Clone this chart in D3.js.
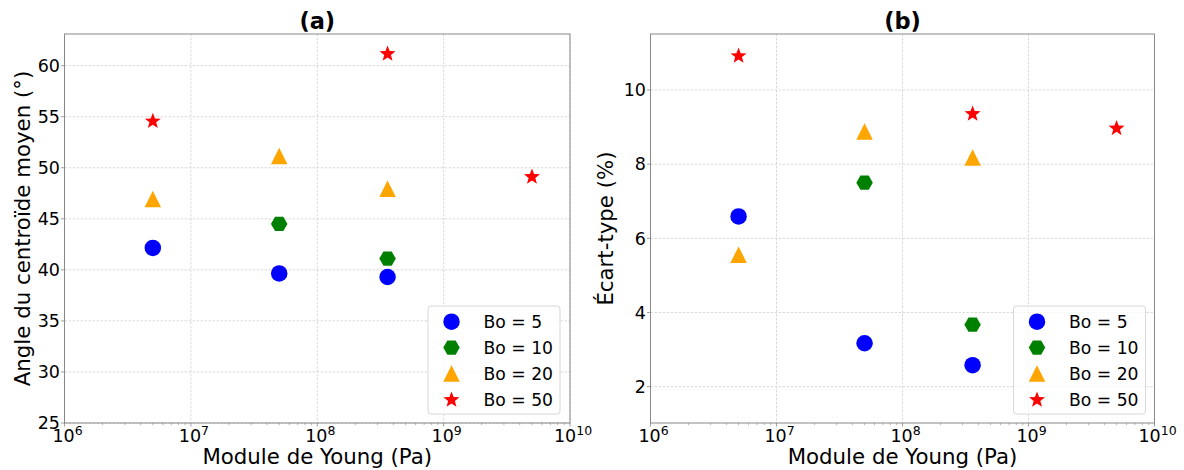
<!DOCTYPE html>
<html><head><meta charset="utf-8">
<script src="https://cdn.jsdelivr.net/npm/d3@7"></script>
<style>body{margin:0;background:#fff;} text{font-family:"DejaVu Sans",sans-serif;}</style>
</head><body>
<svg id="c" width="1184" height="470"></svg>
<script>
const seriesNames = ["Bo = 5", "Bo = 10", "Bo = 20", "Bo = 50"];
const colors = ["#0000ff", "#008000", "#ffa500", "#ff0000"];
const shapes = ["circle", "hexagon", "triangle", "star"];
// x values (Pa) per series
const xBo5 = [5e6, 5e7, 3.6e8];
const xBo10 = [5e7, 3.6e8];
const xBo20 = [5e6, 5e7, 3.6e8];
const xBo50 = [5e6, 3.6e8, 5e9];
// panel (a): angle du centroïde moyen
const angleBo5 = [42.15, 39.65, 39.3];
const angleBo10 = [44.5, 41.1];
const angleBo20 = [46.95, 51.15, 47.95];
const angleBo50 = [54.6, 61.2, 49.15];
// panel (b): écart-type
const stdBo5 = [6.59, 3.17, 2.58];
const stdBo10 = [7.5, 3.67];
const stdBo20 = [5.56, 8.88, 8.18];
const stdBo50 = [10.93, 9.37, 8.98];
const xTickExps = [6, 7, 8, 9, 10];
const yTicksA = [25, 30, 35, 40, 45, 50, 55, 60];
const yTicksB = [2, 4, 6, 8, 10];

const svg = d3.select("#c");
const S = 16.5; // marker size

function markerPath(shape){
  const h = S/2;
  if(shape==="circle") return d3.symbol(d3.symbolCircle, Math.PI*h*h)();
  if(shape==="triangle") return `M0,${-h}L${h},${h}L${-h},${h}Z`;
  if(shape==="hexagon"){ let p=[]; for(let i=0;i<6;i++){const a=i*Math.PI/3; p.push([h*Math.cos(a), h*Math.sin(a)]);} return "M"+p.map(q=>q.map(v=>v.toFixed(2)).join(",")).join("L")+"Z"; }
  if(shape==="star"){ const R=h*1.02, r=R*0.42; let p=[]; for(let i=0;i<10;i++){const a=-Math.PI/2+i*Math.PI/5; const rr=i%2?r:R; p.push([rr*Math.cos(a), rr*Math.sin(a)+0.5]);} return "M"+p.map(q=>q.map(v=>v.toFixed(2)).join(",")).join("L")+"Z"; }
}

function panel(opts){
  const {left,right,top,bottom,yDomain,yTicks,data,title,ylabel,ylabelX,legendX} = opts;
  const x = d3.scaleLog().domain([1e6,1e10]).range([left,right]);
  const y = d3.scaleLinear().domain(yDomain).range([bottom,top]);
  const g = svg.append("g");
  const gridStyle = sel => sel.attr("stroke","#cfcfcf").attr("stroke-width",0.8).attr("stroke-dasharray","2.5,1.5");
  g.selectAll(".gx").data(xTickExps).enter().append("line")
    .attr("x1",d=>x(Math.pow(10,d))).attr("x2",d=>x(Math.pow(10,d)))
    .attr("y1",top).attr("y2",bottom).call(gridStyle);
  g.selectAll(".gy").data(yTicks).enter().append("line")
    .attr("x1",left).attr("x2",right).attr("y1",d=>y(d)).attr("y2",d=>y(d)).call(gridStyle);
  // ticks
  const minors=[];
  for(let e=6;e<10;e++) for(let k=2;k<10;k++) minors.push(k*Math.pow(10,e));
  g.selectAll(".mt").data(minors).enter().append("line")
    .attr("x1",d=>x(d)).attr("x2",d=>x(d)).attr("y1",bottom).attr("y2",bottom+2.2)
    .attr("stroke","#888").attr("stroke-width",0.6);
  g.selectAll(".Mt").data(xTickExps).enter().append("line")
    .attr("x1",d=>x(Math.pow(10,d))).attr("x2",d=>x(Math.pow(10,d))).attr("y1",bottom).attr("y2",bottom+3.5)
    .attr("stroke","#888").attr("stroke-width",0.8);
  g.selectAll(".yMt").data(yTicks).enter().append("line")
    .attr("x1",left).attr("x2",left-3.5).attr("y1",d=>y(d)).attr("y2",d=>y(d))
    .attr("stroke","#888").attr("stroke-width",0.8);
  // spine
  g.append("rect").attr("x",left).attr("y",top).attr("width",right-left).attr("height",bottom-top)
    .attr("fill","none").attr("stroke","#888").attr("stroke-width",1);
  // x tick labels
  const xt = g.selectAll(".xt").data(xTickExps).enter().append("text")
    .attr("x",d=>x(Math.pow(10,d))+3).attr("y",bottom+19).attr("text-anchor","middle")
    .attr("font-size",17.5).attr("fill","#000");
  xt.append("tspan").text("10");
  xt.append("tspan").attr("dy",-7.5).attr("font-size",12.5).text(d=>d);
  // y tick labels
  g.selectAll(".yt").data(yTicks).enter().append("text")
    .attr("x",left-4.5).attr("y",d=>y(d)).attr("dy","0.36em").attr("text-anchor","end")
    .attr("font-size",17.5).attr("fill","#000").text(d=>d);
  // labels
  g.append("text").attr("x",(left+right)/2).attr("y",464).attr("text-anchor","middle")
    .attr("font-size",21.3).text("Module de Young (Pa)");
  g.append("text").attr("transform",`translate(${ylabelX},${(top+bottom)/2}) rotate(-90)`)
    .attr("text-anchor","middle").attr("font-size",21.3).text(ylabel);
  g.append("text").attr("x",(left+right)/2).attr("y",29).attr("text-anchor","middle")
    .attr("font-size",22.5).attr("font-weight","bold").text(title);
  // points
  data.forEach((s,i)=>{
    g.selectAll(null).data(s.xs.map((xv,j)=>[xv,s.ys[j]])).enter().append("path")
      .attr("d",markerPath(shapes[i]))
      .attr("transform",d=>`translate(${x(d[0])},${y(d[1])})`)
      .attr("fill",colors[i]);
  });
  // legend
  const lg = g.append("g");
  lg.append("rect").attr("x",legendX).attr("y",306).attr("width",132).attr("height",108)
    .attr("rx",3).attr("fill","#fff").attr("fill-opacity",0.8).attr("stroke","#d8d8d8").attr("stroke-width",1);
  seriesNames.forEach((n,i)=>{
    const yy = 321.7 + i*25.9;
    lg.append("path").attr("d",markerPath(shapes[i])).attr("transform",`translate(${legendX+23.5},${yy})`).attr("fill",colors[i]);
    lg.append("text").attr("x",legendX+55.5).attr("y",yy).attr("dy","0.36em").attr("font-size",17.2).text(n);
  });
}

panel({left:64.5,right:570,top:34,bottom:423,yDomain:[25,63.1],yTicks:yTicksA,
  data:[{xs:xBo5,ys:angleBo5},{xs:xBo10,ys:angleBo10},{xs:xBo20,ys:angleBo20},{xs:xBo50,ys:angleBo50}],
  title:"(a)", ylabel:"Angle du centroïde moyen (°)", ylabelX:30, legendX:428});
panel({left:650.5,right:1154.5,top:34,bottom:423,yDomain:[1.02,11.51],yTicks:yTicksB,
  data:[{xs:xBo5,ys:stdBo5},{xs:xBo10,ys:stdBo10},{xs:xBo20,ys:stdBo20},{xs:xBo50,ys:stdBo50}],
  title:"(b)", ylabel:"Écart-type (%)", ylabelX:613, legendX:1013.5});
</script>
</body></html>
